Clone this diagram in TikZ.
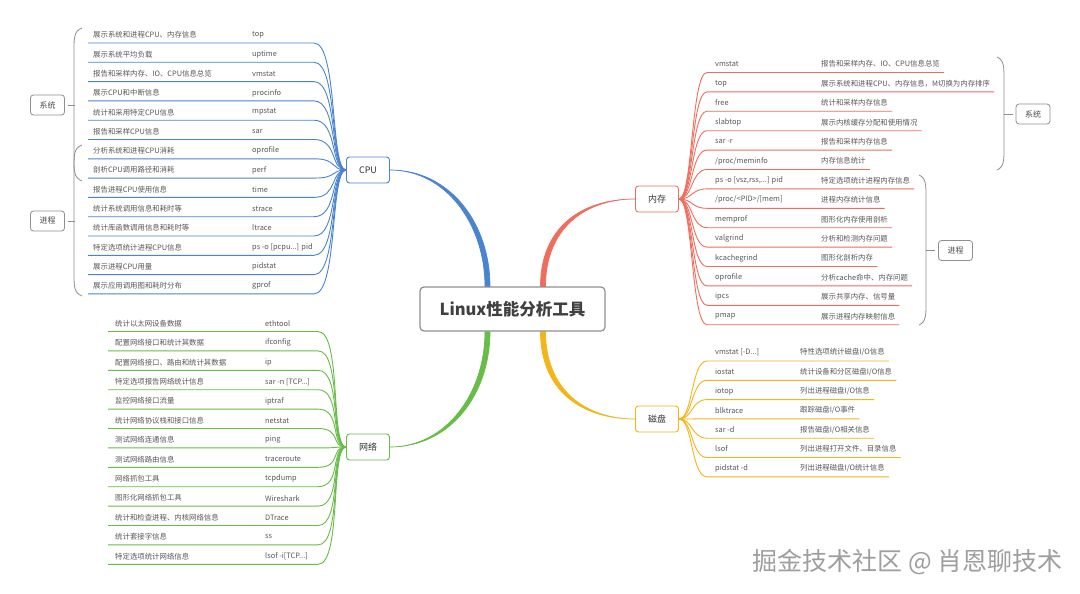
\documentclass[tikz,border=0pt]{standalone}
\usepackage{fontspec}
\setmainfont{Noto Sans CJK SC}
\usetikzlibrary{positioning,calc,backgrounds}
\definecolor{cpucol}{HTML}{4A84D0}
\definecolor{memcol}{HTML}{EF6D5D}
\definecolor{diskcol}{HTML}{F2B51A}
\definecolor{netcol}{HTML}{67BD46}
\definecolor{framecol}{HTML}{8F8F8F}
\definecolor{leaftxt}{HTML}{585858}
\newcommand{\sidebrace}[4]{% tip x, body x, top y, bottom y
  \draw[Brace] (#1,#3) .. controls (#2,#3+3) and (#2,#3+10) .. (#2,#3+22)
    -- (#2,#4-22) .. controls (#2,#4-10) and (#2,#4-3) .. (#1,#4);}
\tikzset{
  Hub/.style={draw=framecol, line width=1.2pt, rounded corners=4pt, fill=white,
              minimum width=185pt, minimum height=44pt, text=black!75,
              font=\fontsize{16.5}{18}\selectfont\bfseries},
  Topic/.style={draw=#1, line width=0.9pt, rounded corners=3pt, fill=white,
                minimum width=43pt, minimum height=26pt, text=black!80,
                font=\fontsize{9}{10}\selectfont},
  Tag/.style={draw=framecol, line width=0.8pt, rounded corners=3pt, fill=white,
              minimum width=34pt, minimum height=20pt, text=black!70,
              font=\fontsize{8}{9}\selectfont},
  Leaf/.style={anchor=west, inner sep=0pt, text=leaftxt,
               font=\fontsize{7.4}{8}\selectfont},
  Twig/.style={draw=#1, line width=0.9pt},
  Limb/.style={fill=#1, draw=#1, line width=0.7pt},
  Brace/.style={draw=framecol, line width=0.8pt},
  Stamp/.style={anchor=east, inner sep=0pt, text=black!38,
                font=\fontsize{25}{28}\selectfont}
}
\begin{document}
\begin{tikzpicture}[x=1pt, y=-1pt]
  \useasboundingbox (0,0) rectangle (1080,594);

  \node[Hub] (hub) at (512.5,309) {Linux性能分析工具};
  \node[Topic=cpucol] (cpu) at (368,170) {CPU};
  \node[Topic=memcol] (mem) at (657,199) {内存};
  \node[Topic=diskcol] (disk) at (657,419) {磁盘};
  \node[Topic=netcol] (net) at (368,447) {网络};

  \node[Tag] (cpusys) at (47.5,105) {系统};
  \node[Tag] (cpuproc) at (47.5,221) {进程};
  \node[Tag] (memsys) at (1033,114) {系统};
  \node[Tag] (memproc) at (955.5,250.5) {进程};

  \node[Stamp] (stamp) at (1063,562) {掘金技术社区 @ 肖恩聊技术};

  \begin{scope}[on background layer]
    \fill[white] (0,0) rectangle (1080,594);

    % main branches
    \filldraw[Limb=cpucol] (cpu.east) .. controls +(56,0) and +(0,-62) .. ([xshift=-27.5pt]hub.north)
      -- ([xshift=-22.5pt]hub.north) .. controls +(0,-62) and +(61,0) .. (cpu.east) -- cycle;
    \filldraw[Limb=memcol] (mem.west) .. controls +(-50,0) and +(0,-58) .. ([xshift=33pt]hub.north)
      -- ([xshift=28pt]hub.north) .. controls +(0,-58) and +(-55,0) .. (mem.west) -- cycle;
    \filldraw[Limb=diskcol] (disk.west) .. controls +(-50,0) and +(0,58) .. ([xshift=33pt]hub.south)
      -- ([xshift=28pt]hub.south) .. controls +(0,58) and +(-55,0) .. (disk.west) -- cycle;
    \filldraw[Limb=netcol] (net.east) .. controls +(56,0) and +(0,62) .. ([xshift=-27.5pt]hub.south)
      -- ([xshift=-22.5pt]hub.south) .. controls +(0,62) and +(61,0) .. (net.east) -- cycle;

    % CPU
    \foreach \txt/\cmd [count=\i] in {%
      展示系统和进程CPU、内存信息/top,%
      展示系统平均负载/uptime,%
      报告和采样内存、IO、CPU信息总览/vmstat,%
      展示CPU和中断信息/procinfo,%
      统计和采用特定CPU信息/mpstat,%
      报告和采样CPU信息/sar,%
      分析系统和进程CPU消耗/oprofile,%
      剖析CPU调用路径和消耗/perf,%
      报告进程CPU使用信息/time,%
      统计系统调用信息和耗时等/strace,%
      统计库函数调用信息和耗时等/ltrace,%
      特定选项统计进程CPU信息/{ps -o [pcpu...] pid},%
      展示进程CPU用量/pidstat,%
      展示应用调用图和耗时分布/gprof}{
      \pgfmathsetmacro{\ry}{35+19.3*(\i-1)}
      \node[Leaf] (cpud\i) at (93,\ry) {\txt};
      \node[Leaf] (cpuc\i) at (252,\ry) {\cmd};
      \coordinate (cpuu\i) at (88,\ry+8);
      \draw[Twig=cpucol] (cpuu\i) -- ++(226,0) .. controls +(24,0) and +(-16,0) .. (cpu.west);
    }

    % memory
    \foreach \cmd/\txt [count=\i] in {%
      vmstat/报告和采样内存、IO、CPU信息总览,%
      top/展示系统和进程CPU、内存信息，M切换为内存排序,%
      free/统计和采样内存信息,%
      slabtop/展示内核缓存分配和使用情况,%
      {sar -r}/报告和采样内存信息,%
      {/proc/meminfo}/内存信息统计,%
      {ps -o [vsz,rss,...] pid}/特定选项统计进程内存信息,%
      {/proc/<PID>/[mem]}/进程内存统计信息,%
      memprof/图形化内存使用剖析,%
      valgrind/分析和检测内存问题,%
      kcachegrind/图形化剖析内存,%
      oprofile/分析cache命中、内存问题,%
      ipcs/展示共享内存、信号量,%
      pmap/展示进程内存映射信息}{
      \pgfmathsetmacro{\ry}{64+19.4*(\i-1)}
      \node[Leaf] (memc\i) at (715,\ry) {\cmd};
      \node[Leaf] (memd\i) at (821,\ry) {\txt};
      \coordinate (memu\i) at (707,\ry+8.5);
      \draw[Twig=memcol] (mem.east) .. controls +(14,0) and +(-16,0) .. (memu\i)
        -- ($(memu\i -| memd\i.east)+(4,0)$);
    }

    % disk
    \foreach \cmd/\txt [count=\i] in {%
      {vmstat [-D...]}/{特性选项统计磁盘I/O信息},%
      iostat/{统计设备和分区磁盘I/O信息},%
      iotop/{列出进程磁盘I/O信息},%
      blktrace/{跟踪磁盘I/O事件},%
      {sar -d}/{报告磁盘I/O相关信息},%
      lsof/{列出进程打开文件、目录信息},%
      {pidstat -d}/{列出进程磁盘I/O统计信息}}{
      \pgfmathsetmacro{\ry}{352.5+19.3*(\i-1)}
      \node[Leaf] (diskc\i) at (715,\ry) {\cmd};
      \node[Leaf] (diskd\i) at (800,\ry) {\txt};
      \coordinate (disku\i) at (707,\ry+8.5);
      \draw[Twig=diskcol] (disk.east) .. controls +(14,0) and +(-16,0) .. (disku\i)
        -- ($(disku\i -| diskd\i.east)+(4,0)$);
    }

    % network
    \foreach \txt/\cmd [count=\i] in {%
      统计以太网设备数据/ethtool,%
      配置网络接口和统计其数据/ifconfig,%
      配置网络接口、路由和统计其数据/ip,%
      特定选项报告网络统计信息/{sar -n [TCP...]},%
      监控网络接口流量/iptraf,%
      统计网络协议栈和接口信息/netstat,%
      测试网络连通信息/ping,%
      测试网络路由信息/traceroute,%
      网络抓包工具/tcpdump,%
      图形化网络抓包工具/Wireshark,%
      统计和检查进程、内核网络信息/DTrace,%
      统计套接字信息/ss,%
      特定选项统计网络信息/{lsof -i[TCP...]}}{
      \pgfmathsetmacro{\ry}{323.5+19.4*(\i-1)}
      \node[Leaf] (netd\i) at (115,\ry) {\txt};
      \node[Leaf] (netc\i) at (265,\ry) {\cmd};
      \coordinate (netu\i) at (108,\ry+8);
      \draw[Twig=netcol] (netu\i) -- ++(210,0) .. controls +(24,0) and +(-16,0) .. (net.west);
    }

    % groups
    \sidebrace{82}{74}{28}{181}
    \sidebrace{82}{74}{145}{296}
    \sidebrace{997}{1004}{57}{170}
    \sidebrace{919}{926}{175}{325}
    \draw[Brace] ([xshift=3pt]cpusys.east) -- ++(7,0);
    \draw[Brace] ([xshift=3pt]cpuproc.east) -- ++(7,0);
    \draw[Brace] ([xshift=-3pt]memsys.west) -- ++(-9,0);
    \draw[Brace] ([xshift=-3pt]memproc.west) -- ++(-9,0);
  \end{scope}
\end{tikzpicture}
\end{document}
